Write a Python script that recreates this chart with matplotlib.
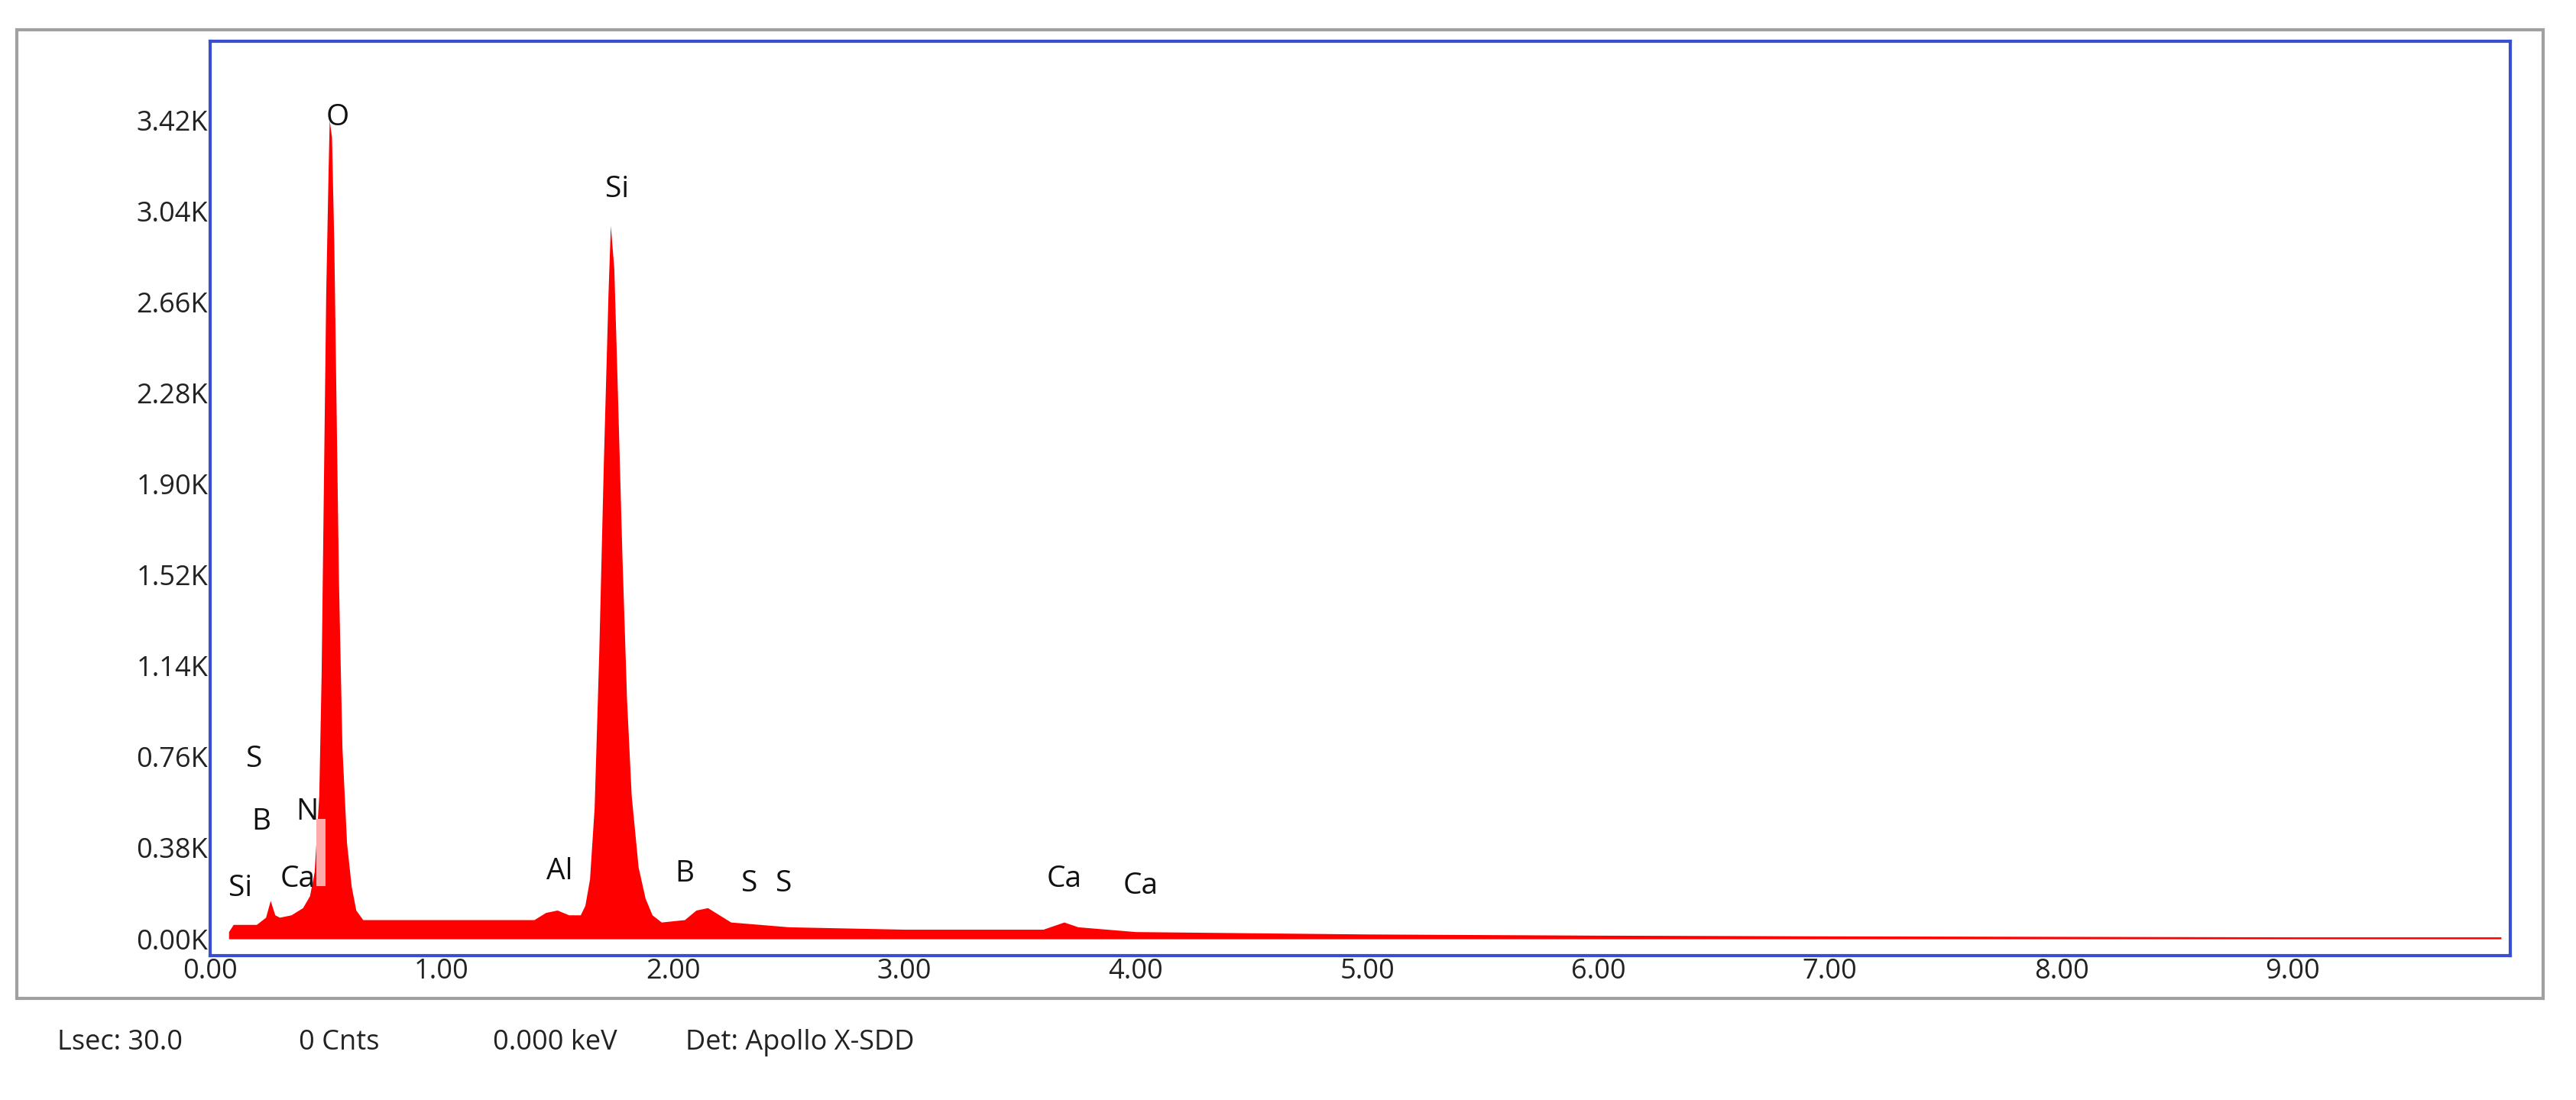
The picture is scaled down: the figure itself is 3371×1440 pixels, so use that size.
import matplotlib.pyplot as plt
from matplotlib.patches import Rectangle
from matplotlib.ticker import FuncFormatter

# spectrum (keV, kilo-counts)
energy = [0.08, 0.10, 0.20, 0.24, 0.26, 0.28, 0.30, 0.35, 0.40, 0.43, 0.45, 0.47, 0.48, 0.49,
          0.50, 0.51, 0.515, 0.525, 0.535, 0.545, 0.555, 0.57, 0.59, 0.61, 0.63, 0.66, 0.80,
          1.00, 1.20, 1.40, 1.45, 1.50, 1.55, 1.60, 1.62, 1.64, 1.66, 1.68, 1.70, 1.72, 1.73,
          1.745, 1.76, 1.78, 1.80, 1.82, 1.85, 1.88, 1.91, 1.95, 2.05, 2.10, 2.15, 2.20, 2.25,
          2.50, 3.00, 3.60, 3.69, 3.75, 4.00, 5.00, 6.00, 7.00, 8.00, 9.00, 9.90]
counts = [0.03, 0.06, 0.06, 0.09, 0.16, 0.10, 0.09, 0.10, 0.13, 0.18, 0.28, 0.60, 1.10, 1.90,
          2.70, 3.20, 3.42, 3.35, 2.90, 2.20, 1.50, 0.80, 0.40, 0.22, 0.12, 0.08, 0.08,
          0.08, 0.08, 0.08, 0.11, 0.12, 0.10, 0.10, 0.14, 0.25, 0.55, 1.20, 2.00, 2.70, 2.98,
          2.80, 2.30, 1.60, 1.00, 0.60, 0.30, 0.17, 0.10, 0.07, 0.08, 0.12, 0.13, 0.10, 0.07,
          0.05, 0.04, 0.04, 0.07, 0.05, 0.03, 0.02, 0.015, 0.012, 0.01, 0.008, 0.008]

# element labels: text, keV, kilo-counts
labels = ["O", "Si", "S", "B", "N", "Si", "Ca", "Al", "B", "S", "S", "Ca", "Ca"]
label_x = [0.55, 1.76, 0.19, 0.22, 0.42, 0.13, 0.38, 1.51, 2.05, 2.33, 2.48, 3.69, 4.02]
label_y = [3.43, 3.13, 0.75, 0.49, 0.53, 0.21, 0.25, 0.28, 0.27, 0.23, 0.23, 0.25, 0.22]

yticks = [0.00, 0.38, 0.76, 1.14, 1.52, 1.90, 2.28, 2.66, 3.04, 3.42]
xticks = [0, 1, 2, 3, 4, 5, 6, 7, 8, 9]
status = ["Lsec: 30.0", "0 Cnts", "0.000 keV", "Det: Apollo X-SDD"]
status_x = [75, 391, 645, 897]

W, H = 3371, 1440
fig = plt.figure(figsize=(W / 100, H / 100), dpi=100)
plt.rcParams['font.family'] = ['Open Sans', 'DejaVu Sans']

# grey outer frame
fig.patches.append(Rectangle((22 / W, 1 - 1307 / H), (3328 - 22) / W, (1307 - 39) / H,
                             transform=fig.transFigure, fill=False, ec='#a0a0a0', lw=3))

ax = fig.add_axes([275 / W, 1 - 1251 / H, (3285 - 275) / W, (1251 - 54) / H])
ax.fill_between(energy, counts, 0, color='#ff0000', lw=0)
ax.add_patch(Rectangle((0.46, 0.22), 0.04, 0.28, color='#ffaaaa', lw=0, zorder=3))
for t, x, y in zip(labels, label_x, label_y):
    ax.text(x, y, t, fontsize=28, ha='center', va='center', color='#111111')

ax.set_xlim(0, 9.94)
ax.set_ylim(-0.07, 3.75)
ax.set_xticks(xticks)
ax.set_yticks(yticks)
ax.xaxis.set_major_formatter(FuncFormatter(lambda v, p: f"{v:.2f}"))
ax.yaxis.set_major_formatter(FuncFormatter(lambda v, p: f"{v:.2f}K"))
ax.tick_params(labelsize=26, length=0, pad=2, colors='#222222')
for s in ax.spines.values():
    s.set_color('#3a4fd0')
    s.set_linewidth(3)

for t, x in zip(status, status_x):
    fig.text(x / W, 1 - 1365 / H, t, fontsize=26, va='center', color='#222222')

fig.savefig('out.png', dpi=100)
